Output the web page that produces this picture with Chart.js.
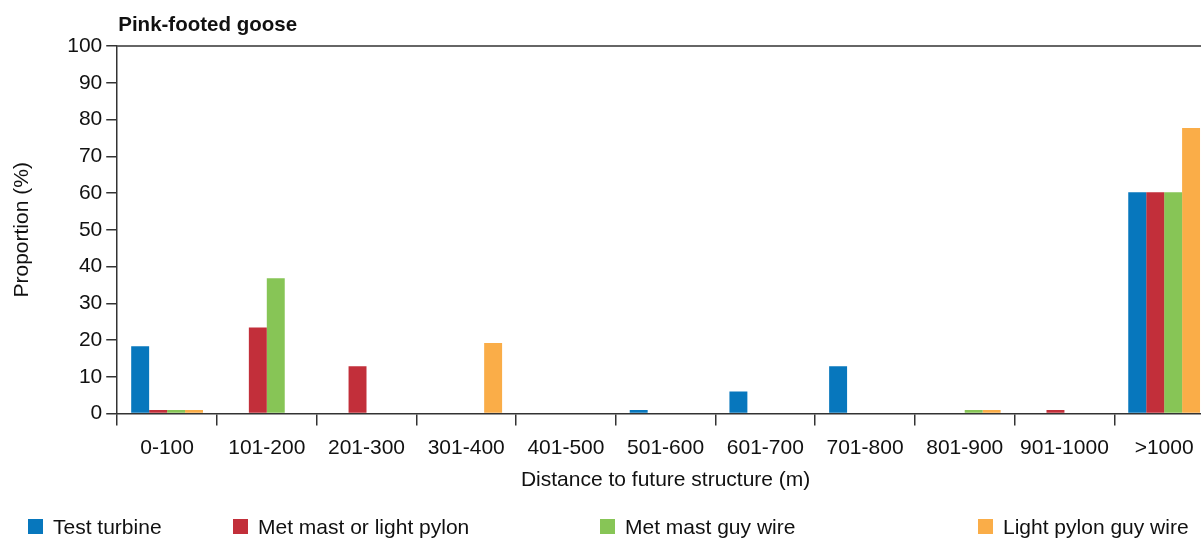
<!DOCTYPE html>
<html>
<head>
<meta charset="utf-8">
<script src="https://cdn.jsdelivr.net/npm/chart.js@4"></script>
<style>
  html, body { margin: 0; padding: 0; overflow: hidden; background: #fff; }
  #wrap { width: 1215px; height: 538px; position: relative; }
</style>
</head>
<body>
<div id="wrap"><canvas id="goose"></canvas></div>
<script>
// Data (proportion in %)
const distanceBins = ["0-100", "101-200", "201-300", "301-400", "401-500", "501-600",
  "601-700", "701-800", "801-900", "901-1000", ">1000"];
const testTurbine  = [18.3, 0, 0, 0, 0, 1, 6, 12.9, 0, 0, 60.2];
const metMastPylon = [1, 23.4, 12.9, 0, 0, 0, 0, 0, 0, 1, 60.2];
const metMastGuy   = [1, 36.8, 0, 0, 0, 0, 0, 0, 1, 0, 60.2];
const pylonGuy     = [1, 0, 0, 19.2, 0, 0, 0, 0, 1, 0, 77.7];
const yTicks = [0, 10, 20, 30, 40, 50, 60, 70, 80, 90, 100];

const FONT = "'Liberation Sans', Arial, Helvetica, sans-serif";
const AXIS = "#333";

Chart.defaults.font.family = FONT;
Chart.defaults.font.size = 21;
Chart.defaults.color = "#111";

// title, top frame line and the spread-out legend
const extras = {
  id: "extras",
  afterDraw(chart, args, opts) {
    const c = chart.ctx;
    const a = chart.chartArea;
    c.save();
    // top border of the plot
    c.strokeStyle = AXIS;
    c.lineWidth = 1.5;
    c.beginPath();
    c.moveTo(a.left, a.top);
    c.lineTo(a.right, a.top);
    c.stroke();
    // title
    c.fillStyle = "#111";
    c.font = "bold 20.5px " + FONT;
    c.textBaseline = "middle";
    c.textAlign = "left";
    c.fillText(opts.title, a.left + 1, opts.titleY);
    // legend
    c.font = "21px " + FONT;
    chart.data.datasets.forEach((ds, i) => {
      const x = opts.legendX[i];
      c.fillStyle = ds.backgroundColor;
      c.fillRect(x, opts.legendY - 8, 15, 15);
      c.fillStyle = "#111";
      c.fillText(ds.label, x + 25, opts.legendY + 1);
    });
    c.restore();
  }
};

const ctx = document.getElementById("goose");
const gooseChart = new Chart(ctx, {
  type: "bar",
  data: {
    labels: distanceBins,
    datasets: [
      { label: "Test turbine", data: testTurbine, backgroundColor: "#0777BD" },
      { label: "Met mast or light pylon", data: metMastPylon, backgroundColor: "#C22F3A" },
      { label: "Met mast guy wire", data: metMastGuy, backgroundColor: "#87C556" },
      { label: "Light pylon guy wire", data: pylonGuy, backgroundColor: "#FAAD48" },
    ],
  },
  options: {
    responsive: true,
    maintainAspectRatio: false,
    animation: false,
    datasets: {
      bar: { categoryPercentage: 0.72, barPercentage: 1.0, borderWidth: 0 },
    },
    layout: {
      padding: { top: 46, left: 8, right: 1, bottom: 45 },
    },
    plugins: {
      legend: { display: false },
      tooltip: { enabled: false },
      extras: {
        title: "Pink-footed goose",
        titleY: 25,
        legendX: [28, 233, 600, 978],
        legendY: 527,
      },
    },
    scales: {
      x: {
        offset: true,
        grid: {
          offset: true,
          drawOnChartArea: false,
          tickLength: 12,
          color: AXIS,
          lineWidth: 1.5,
        },
        border: { color: AXIS, width: 1.5 },
        ticks: { padding: 10, maxRotation: 0, autoSkip: false, color: "#111" },
        title: {
          display: true,
          text: "Distance to future structure (m)",
          padding: { top: -3, bottom: 0 },
          color: "#111",
        },
      },
      y: {
        min: 0,
        max: 100,
        afterBuildTicks: (axis) => {
          axis.ticks = yTicks.map((v) => ({ value: v }));
        },
        grid: {
          drawOnChartArea: false,
          tickLength: 11,
          color: AXIS,
          lineWidth: 1.5,
        },
        border: { color: AXIS, width: 1.5 },
        ticks: { padding: 4, color: "#111" },
        title: {
          display: true,
          text: "Proportion (%)",
          padding: { top: 2, bottom: 28 },
          color: "#111",
        },
      },
    },
  },
  plugins: [extras],
});
</script>
</body>
</html>
